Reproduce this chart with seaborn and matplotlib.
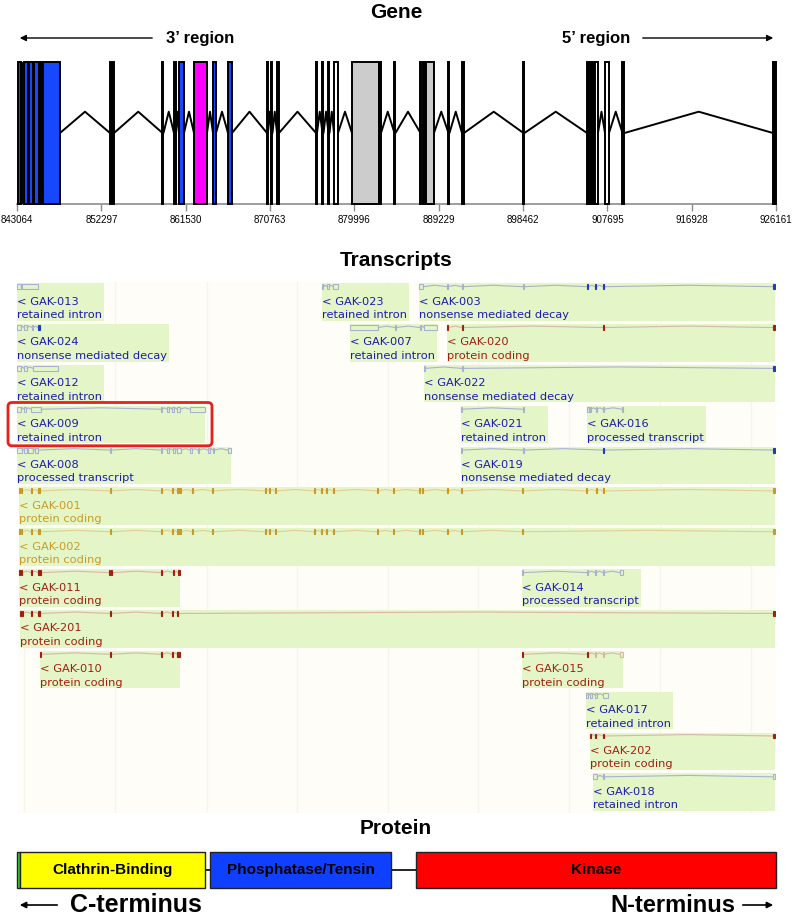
import numpy as np
import pandas as pd
import matplotlib
matplotlib.use("Agg")
import matplotlib.pyplot as plt
import seaborn as sns
from matplotlib.patches import FancyBboxPatch, FancyArrowPatch
from matplotlib.transforms import IdentityTransform

sns.set_theme(style="white")
plt.rcParams['font.family'] = ['DejaVu Sans']
plt.rcParams['text.color'] = 'black'
plt.rcParams['xtick.color'] = 'black'
HEAD = ['Liberation Sans', 'DejaVu Sans']

# ---- gene ----
gene_start, gene_end = 843064, 926161
tick_pos = [843064, 852297, 861530, 870763, 879996, 889229, 898462, 907695, 916928, 926161]

gene_exon_start = [843119, 843557, 843830, 844268, 844378, 844816, 844925, 845505, 845878,
                   853246, 858993, 860252, 860800, 862442, 864522, 866164, 870434, 870927,
                   871529, 875799, 876510, 877167, 877769, 879740, 882750, 884393, 887239,
                   887513, 887841, 890305, 891783, 898516, 905468, 905796, 906343, 907438,
                   909354, 925831]
gene_exon_end = [843502, 843666, 844214, 844378, 844761, 844925, 845418, 845878, 847772,
                 853684, 859103, 860471, 861347, 863865, 864851, 866602, 870543, 871036,
                 871748, 875908, 876620, 877277, 878207, 882805, 882915, 884502, 887349,
                 887732, 888717, 890414, 892002, 898625, 905687, 906234, 906672, 907876,
                 909573, 926214]
gene_exon_color = ['blue', 'black', 'blue', 'black', 'blue', 'black', 'blue', 'black', 'blue',
                   'black', 'black', 'black', 'blue', 'magenta', 'blue', 'blue', 'black', 'black',
                   'black', 'black', 'black', 'black', 'white', 'grey', 'black', 'black', 'black',
                   'black', 'grey', 'black', 'black', 'black', 'black', 'black', 'white', 'white',
                   'black', 'black']
exon_palette = {'blue': '#1747ff', 'black': '#000000', 'magenta': '#ff00ff',
                'grey': '#cccccc', 'white': '#ffffff'}

# ---- transcripts: (start, end, coding) ----
gak_013 = [(843064, 843502, 0), (843611, 845363, 0)]
gak_023 = [(876455, 876620, 0), (877003, 877222, 0), (877660, 878207, 0)]
gak_003 = [(887075, 887513, 0), (890140, 890250, 0), (891783, 891892, 0), (898461, 898570, 0),
           (905468, 905632, 1), (906343, 906453, 1), (907219, 907384, 1), (925831, 926050, 1)]
gak_024 = [(843064, 843502, 0), (843830, 844159, 0), (844706, 844816, 0), (845363, 845582, 1)]
gak_007 = [(879521, 882586, 0), (884447, 884557, 0), (887184, 887294, 0), (887622, 889046, 0)]
gak_020 = [(890140, 890250, 1), (891783, 891892, 1), (907219, 907329, 1), (925831, 926050, 1)]
gak_012 = [(843064, 843502, 0), (843830, 844159, 0), (844816, 847553, 0)]
gak_022 = [(887622, 887732, 0), (891783, 891892, 0), (925831, 926050, 1)]
gak_009 = [(843064, 843502, 0), (843830, 844049, 0), (844597, 845692, 0), (858829, 858939, 0),
           (859486, 859705, 0), (860033, 860252, 0), (860581, 860909, 0), (862004, 863646, 0)]
gak_021 = [(891673, 891783, 0), (898461, 898570, 0)]
gak_016 = [(905468, 905687, 0), (905796, 905906, 0), (906453, 906562, 0), (907219, 907329, 0),
           (909299, 909409, 0)]
gak_008 = [(843064, 843611, 0), (843830, 844159, 0), (844268, 844816, 0), (845035, 845363, 0),
           (853246, 853355, 0), (858829, 858939, 0), (859486, 859705, 0), (860143, 860362, 0),
           (860581, 861019, 0), (862004, 862223, 0), (862880, 862989, 0), (863975, 864194, 0),
           (864522, 864632, 0), (866164, 866493, 0)]
gak_019 = [(891673, 891783, 0), (898461, 898570, 0), (907219, 907329, 1), (925831, 926050, 1)]
gak_001 = [(843283, 843392, 1), (843502, 843611, 1), (844597, 844706, 1), (845363, 845582, 1),
           (853246, 853355, 1), (858829, 858939, 1), (860033, 860143, 1), (860581, 861019, 1),
           (862223, 862332, 1), (864413, 864522, 1), (870215, 870325, 1), (870653, 870762, 1),
           (871310, 871419, 1), (875580, 875689, 1), (876346, 876455, 1), (876893, 877003, 1),
           (877660, 877769, 1), (882477, 882586, 1), (884228, 884338, 1), (887075, 887184, 1),
           (887403, 887513, 1), (890140, 890250, 1), (891673, 891783, 1), (898351, 898461, 1),
           (905358, 905468, 1), (906453, 906562, 1), (907219, 907329, 1), (925831, 926050, 1)]
gak_002 = [(843283, 843392, 1), (843502, 843611, 1), (844597, 844706, 1), (845363, 845582, 1),
           (853246, 853355, 1), (858829, 858939, 1), (860033, 860143, 1), (860581, 861019, 1),
           (862223, 862332, 1), (864413, 864522, 1), (870215, 870325, 1), (870653, 870762, 1),
           (871310, 871419, 1), (875580, 875689, 1), (876346, 876455, 1), (876893, 877003, 1),
           (877660, 877769, 1), (882477, 882586, 1), (884228, 884338, 1), (887075, 887184, 1),
           (887403, 887513, 1), (890140, 890250, 1), (891673, 891783, 1), (898351, 898461, 1),
           (925831, 926050, 1)]
gak_011 = [(843283, 843392, 1), (843502, 843611, 1), (844597, 844706, 1), (845363, 845692, 1),
           (853136, 853246, 1), (853355, 853465, 1), (858829, 858939, 1), (860143, 860252, 1),
           (860690, 860909, 1)]
gak_014 = [(898351, 898461, 0), (905468, 905577, 0), (906343, 906453, 0), (907219, 907329, 0),
           (909080, 909409, 0)]
gak_201 = [(843392, 843502, 1), (843611, 843721, 1), (844597, 844706, 1), (845363, 845582, 1),
           (853246, 853355, 1), (858829, 858939, 1), (860033, 860143, 1), (860581, 860690, 1),
           (925831, 926050, 1)]
gak_010 = [(845582, 845692, 1), (853246, 853355, 1), (858829, 858939, 1), (860033, 860143, 1),
           (860581, 860909, 1)]
gak_015 = [(898351, 898461, 1), (905468, 905577, 1), (906343, 906453, 0), (907219, 907329, 0),
           (909080, 909409, 0)]
gak_017 = [(905358, 905577, 0), (905796, 906015, 0), (906343, 906562, 0), (907219, 907767, 0)]
gak_202 = [(905796, 905906, 1), (906343, 906453, 1), (907219, 907329, 1), (925831, 926050, 1)]
gak_018 = [(906124, 906562, 0), (907219, 907329, 0), (925831, 926050, 0)]

tx_names = ['GAK-013', 'GAK-023', 'GAK-003', 'GAK-024', 'GAK-007', 'GAK-020', 'GAK-012',
            'GAK-022', 'GAK-009', 'GAK-021', 'GAK-016', 'GAK-008', 'GAK-019', 'GAK-001',
            'GAK-002', 'GAK-011', 'GAK-014', 'GAK-201', 'GAK-010', 'GAK-015', 'GAK-017',
            'GAK-202', 'GAK-018']
tx_types = ['retained intron', 'retained intron', 'nonsense mediated decay',
            'nonsense mediated decay', 'retained intron', 'protein coding', 'retained intron',
            'nonsense mediated decay', 'retained intron', 'retained intron',
            'processed transcript', 'processed transcript', 'nonsense mediated decay',
            'protein coding', 'protein coding', 'protein coding', 'processed transcript',
            'protein coding', 'protein coding', 'protein coding', 'retained intron',
            'protein coding', 'retained intron']
tx_rows = [0, 0, 0, 1, 1, 1, 2, 2, 3, 3, 3, 4, 4, 5, 6, 7, 7, 8, 9, 9, 10, 11, 12]
tx_exons = [gak_013, gak_023, gak_003, gak_024, gak_007, gak_020, gak_012, gak_022, gak_009,
            gak_021, gak_016, gak_008, gak_019, gak_001, gak_002, gak_011, gak_014, gak_201,
            gak_010, gak_015, gak_017, gak_202, gak_018]
highlight = 'GAK-009'
ccds = ['GAK-001', 'GAK-002']
stripe_pos = [843830, 853793, 863865, 873718, 883681, 893534, 903497, 913460, 923423]

# ---- protein (aa, C-terminus on the left) ----
prot_len = 1311
dom_names = ['', 'Clathrin-Binding', 'Phosphatase/Tensin', 'Kinase']
dom_start = [1306, 986, 665, 1]
dom_end = [1311, 1306, 978, 622]
dom_colors = ['#33dd33', '#ffff00', '#1040ff', '#ff0000']

W, H = 793, 916
fig = plt.figure(figsize=(W / 100, H / 100), dpi=100)


def fx(px):
    return px / W


def fy(py):
    return 1 - py / H


# ---------------- Gene panel ----------------
ax_g = fig.add_axes([fx(17), fy(204), fx(759), 142 / H])
ax_g.bar(gene_exon_start, 1, width=np.subtract(gene_exon_end, gene_exon_start), align='edge',
         color=[exon_palette[c] for c in gene_exon_color], edgecolor='black', linewidth=1.4,
         zorder=3, clip_on=False)

blocks = []
for s, e in sorted(zip(gene_exon_start, gene_exon_end)):
    if blocks and s - blocks[-1][1] < 250:
        blocks[-1][1] = max(blocks[-1][1], e)
    else:
        blocks.append([s, e])
pts = []
for k in range(len(blocks) - 1):
    a, b = blocks[k][1], blocks[k + 1][0]
    pts += [(k, a, 0.5), (k, (a + b) / 2, 0.65), (k, b, 0.5)]
introns = pd.DataFrame(pts, columns=['intron', 'x', 'y'])
sns.lineplot(data=introns, x='x', y='y', units='intron', estimator=None, sort=False,
             color='black', linewidth=1.4, ax=ax_g, legend=False)

ax_g.set_xlim(gene_start, gene_end)
ax_g.set_ylim(0, 1)
ax_g.set_xlabel('')
ax_g.set_ylabel('')
ax_g.set_yticks([])
ax_g.set_xticks(tick_pos)
ax_g.set_xticklabels([str(t) for t in tick_pos], fontsize=7, family=HEAD, color='black')
ax_g.tick_params(axis='x', bottom=True, length=5, width=1, color='#8c8c8c', pad=3)
for side in ['top', 'left', 'right']:
    ax_g.spines[side].set_visible(False)
ax_g.spines['bottom'].set_color('#8c8c8c')
ax_g.spines['bottom'].set_linewidth(1.2)

fig.text(fx(396), fy(12), 'Gene', ha='center', va='center', fontsize=15, weight='bold', family=HEAD)
fig.text(fx(200), fy(38), '3\u2019 region', ha='center', va='center', fontsize=12, weight='bold', family=HEAD)
fig.text(fx(596), fy(38), '5\u2019 region', ha='center', va='center', fontsize=12, weight='bold', family=HEAD)
for a, b in [((155, 38), (17, 38)), ((640, 38), (776, 38))]:
    fig.add_artist(FancyArrowPatch((fx(a[0]), fy(a[1])), (fx(b[0]), fy(b[1])), transform=fig.transFigure,
                                   arrowstyle='-|>', mutation_scale=9, lw=1, color='black'))

# ---------------- Transcripts panel ----------------
fig.text(fx(396), fy(260), 'Transcripts', ha='center', va='center', fontsize=15, weight='bold', family=HEAD)
ax_t = fig.add_axes([fx(17), fy(813), fx(759), 531 / H])
ax_t.set_xlim(gene_start, gene_end)
ax_t.set_ylim(13, 0)
ax_t.set_facecolor('#fefdf8')
for sp in ax_t.spines.values():
    sp.set_visible(False)
ax_t.set_xticks([])
ax_t.set_yticks([])
for xs in stripe_pos:
    ax_t.axvline(xs, color='#f6f5ec', lw=1, zorder=0)

BLUE, GOLD, RED = '#1c1cae', '#c99a26', '#a3200f'
box_color = '#e4f6c8'
struct_y, exon_h = 0.115, 0.12


def tx_colors(name, kind):
    if name in ccds:
        return GOLD, GOLD, '#e3cd92'
    if kind == 'protein coding':
        return RED, RED, '#d9b5a5'
    return BLUE, '#1e3cc8', '#a9b2cc'


labels = []
for name, kind, row, ex in zip(tx_names, tx_types, tx_rows, tx_exons):
    tc, fill, line = tx_colors(name, kind)
    x0 = ex[0][0]
    t1 = ax_t.text(x0, row + 0.48, '< ' + name, color=tc, fontsize=8.2, va='center', ha='left', zorder=4)
    t2 = ax_t.text(x0, row + 0.81, kind, color=tc, fontsize=8.2, va='center', ha='left', zorder=4)
    labels.append((t1, t2))

    # exons
    for s, e, cd in ex:
        if cd:
            ax_t.bar(s, exon_h, width=e - s, bottom=row + struct_y - exon_h / 2, align='edge',
                     color=fill, edgecolor=fill, linewidth=0.8, zorder=3)
        else:
            ax_t.bar(s, exon_h, width=e - s, bottom=row + struct_y - exon_h / 2, align='edge',
                     color='none', edgecolor=line, linewidth=0.8, zorder=3)
    # intron carets
    pts = []
    for k in range(len(ex) - 1):
        a, b = ex[k][1], ex[k + 1][0]
        if b > a:
            pts += [(k, a, row + struct_y), (k, (a + b) / 2, row + struct_y - 0.035), (k, b, row + struct_y)]
    if pts:
        df = pd.DataFrame(pts, columns=['intron', 'x', 'y'])
        sns.lineplot(data=df, x='x', y='y', units='intron', estimator=None, sort=False,
                     color=line, linewidth=0.8, ax=ax_t, legend=False, zorder=2)

ax_t.set_xlabel('')
ax_t.set_ylabel('')
ax_t.set_xlim(gene_start, gene_end)
ax_t.set_ylim(13, 0)

fig.canvas.draw()
rend = fig.canvas.get_renderer()
inv = ax_t.transData.inverted()
for name, row, ex, (t1, t2) in zip(tx_names, tx_rows, tx_exons, labels):
    right_px = max(t1.get_window_extent(rend).x1, t2.get_window_extent(rend).x1) + 2
    right = inv.transform((right_px, 0))[0]
    x0 = ex[0][0]
    x1 = min(max(ex[-1][1], right), gene_end)
    ax_t.bar(x0, 0.92, width=x1 - x0, bottom=row + 0.03, align='edge', color=box_color,
             linewidth=0, zorder=1)
    if name == highlight:
        (ax0, ay0) = ax_t.transData.transform((x0, row + 1.01))
        (ax1, ay1) = ax_t.transData.transform((x1, row - 0.05))
        fig.add_artist(FancyBboxPatch((ax0 - 9, ay0), (ax1 - ax0) + 16, ay1 - ay0,
                                      boxstyle='round,pad=0,rounding_size=4',
                                      transform=IdentityTransform(), facecolor='none',
                                      edgecolor='#e8201c', linewidth=2, zorder=10))

# ---------------- Protein panel ----------------
fig.text(fx(396), fy(829), 'Protein', ha='center', va='center', fontsize=15, weight='bold', family=HEAD)
ax_p = fig.add_axes([fx(17), fy(888), fx(759), 36 / H])
ax_p.set_xlim(prot_len, 1)
ax_p.set_ylim(0, 1)
ax_p.axis('off')
ax_p.plot([prot_len, 1], [0.5, 0.5], color='black', lw=1.2, zorder=1)
ax_p.barh(0.5, np.subtract(dom_end, dom_start), left=dom_start, height=1, color=dom_colors,
          edgecolor='#222222', linewidth=1, zorder=2, clip_on=False)
for nm, s, e in zip(dom_names, dom_start, dom_end):
    if nm:
        ax_p.text((s + e) / 2, 0.5, nm, ha='center', va='center', fontsize=11, weight='bold',
                  family=HEAD, color='black', zorder=3)

fig.text(fx(70), fy(905), 'C-terminus', ha='left', va='center', fontsize=18, weight='bold', family=HEAD)
fig.text(fx(735), fy(905), 'N-terminus', ha='right', va='center', fontsize=17, weight='bold', family=HEAD)
for a, b in [((60, 905), (17, 905)), ((740, 905), (776, 905))]:
    fig.add_artist(FancyArrowPatch((fx(a[0]), fy(a[1])), (fx(b[0]), fy(b[1])), transform=fig.transFigure,
                                   arrowstyle='-|>', mutation_scale=9, lw=1.2, color='black'))

fig.savefig('out.png', dpi=100)
